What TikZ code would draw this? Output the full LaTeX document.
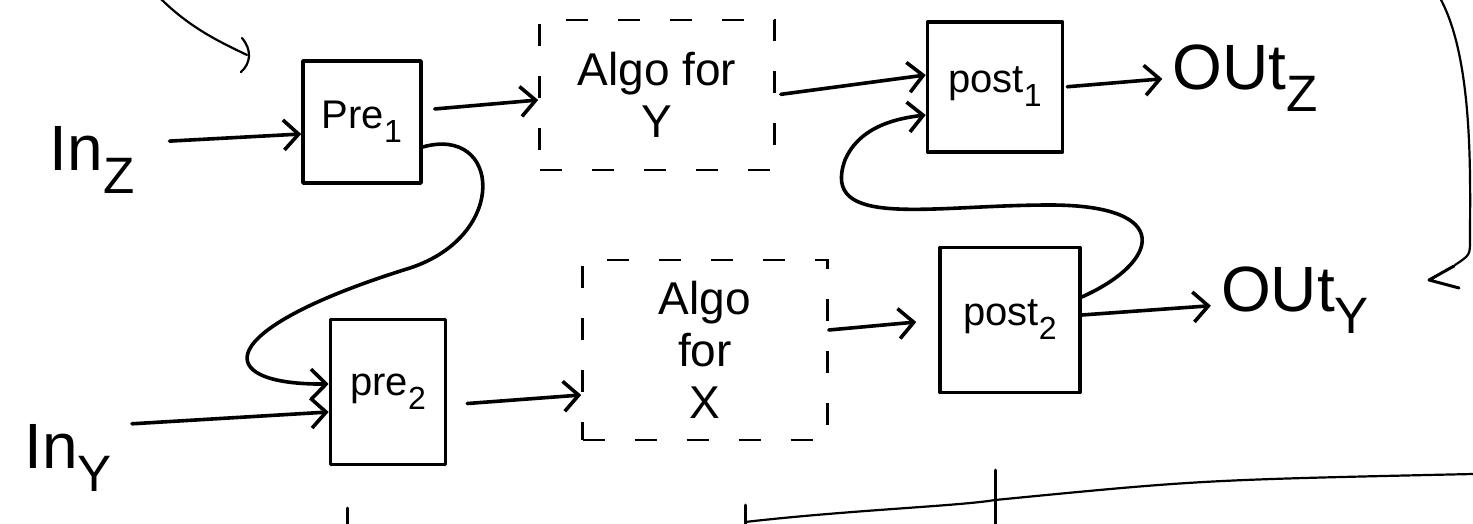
\documentclass[tikz,border=0pt]{standalone}
\usepackage{fontspec}
\setmainfont{Liberation Sans}
\usetikzlibrary{arrows.meta}
\newcommand{\lowsub}[1]{\raisebox{-0.35em}{\scalebox{0.8}{#1}}}
\begin{document}
\begin{tikzpicture}[x=1pt,y=-1pt,
  ink/.style={line width=3.6pt,black,line cap=round,line join=round},
  blk/.style={ink,draw,inner sep=0pt,font=\fontsize{40}{44}\selectfont},
  dbox/.style={draw,line width=2.6pt,dash pattern=on 22pt off 30pt,inner sep=0pt,align=center,font=\fontsize{46}{52}\selectfont},
  lbl/.style={inner sep=0pt,font=\fontsize{64}{68}\selectfont},
  arr/.style={ink,-{Straight Barb[length=15pt,width=30pt]}},
  thin/.style={line width=2.2pt,black,line cap=round}
]
\useasboundingbox (0,0) rectangle (1473,524);
% nodes
\node[lbl] (inz) at (92,160) {In\lowsub{Z}};
\node[blk,minimum width=118pt,minimum height=122pt] (pre1) at (362,122) {Pre\lowsub{1}};
\node[dbox,minimum width=235pt,minimum height=150pt] (algoy) at (657,95) {Algo for\\Y};
\node[blk,minimum width=135pt,minimum height=130pt] (post1) at (995,87) {post\lowsub{1}};
\node[lbl] (outz) at (1245,78) {OUt\lowsub{Z}};
\node[lbl] (iny) at (68,458) {In\lowsub{Y}};
\node[blk,minimum width=115pt,minimum height=145pt] (pre2) at (388,392) {pre\lowsub{2}};
\node[dbox,minimum width=245pt,minimum height=180pt] (algox) at (705,350) {Algo\\for\\X};
\node[blk,minimum width=140pt,minimum height=145pt] (post2) at (1010,320) {post\lowsub{2}};
\node[lbl] (outy) at (1295,300) {OUt\lowsub{Y}};
% straight connectors
\draw[arr,shorten <=35pt] (inz.east |- 0,143) -- ([yshift=-12pt]pre1.west);
\draw[arr,shorten <=12pt] ([yshift=12pt]pre1.east) -- ([yshift=-5pt]algoy.west);
\draw[arr,shorten <=5pt] (algoy.east) -- ([yshift=12pt]post1.west);
\draw[arr,shorten <=3pt,shorten >=10pt] (post1.east) -- (outz.west);
\draw[arr,shorten <=20pt] (iny.east |- 0,425) -- ([yshift=-20pt]pre2.west);
\draw[arr,shorten <=20pt] ([yshift=-13pt]pre2.east) -- ([yshift=-45pt]algox.west);
\draw[arr,shorten <=0pt,shorten >=22pt] ([yshift=20pt]algox.east) -- (post2.west);
\draw[arr,shorten >=10pt] ([yshift=5pt]post2.east) -- ([yshift=-5pt]outy.west);
% loops
\draw[arr] ([yshift=-25pt]pre1.east) .. controls (500,125) and (510,235) .. (410,268)
  .. controls (210,330) and (210,385) .. ([yshift=8pt]pre2.west);
\draw[arr] ([yshift=23pt]post2.east) .. controls (1160,262) and (1175,205) .. (1050,205)
  .. controls (930,205) and (820,230) .. (845,160) .. controls (860,125) and (900,118) .. ([yshift=-28pt]post1.west);
% scribbles
\draw[thin] (160,-2) .. controls (190,28) and (220,42) .. (247,55);
\draw[thin] (242,38) .. controls (252,50) and (251,63) .. (241,72);
\draw[thin] (1440,-2) .. controls (1474,60) and (1470,180) .. (1470,240) .. controls (1470,255) .. (1455,265);
\draw[ink,line width=3pt] (1454,266) -- (1429,280) -- (1459,288);
% bottom lines
\draw[ink,line width=3pt] (347,508) -- (347,526);
\draw[ink,line width=3pt] (745,505) -- (745,526);
\draw[thin] (745,522) .. controls (850,510) and (960,506) .. (995,500);
\draw[ink,line width=3pt] (995,470) -- (995,526);
\draw[thin] (995,500) .. controls (1200,480) .. (1473,474);
\end{tikzpicture}
\end{document}
